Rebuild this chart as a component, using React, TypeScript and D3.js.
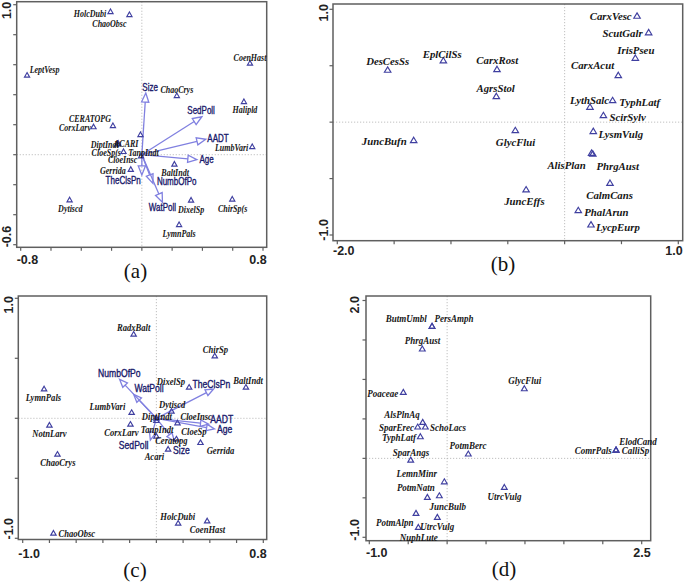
import React from 'react';
import * as d3 from 'd3';

// ---------------- Panel (a) data ----------------
const aSpeciesNames = ['HolcDubi','ChaoObsc','CoenHast','LeptVesp','ChaoCrys','Halipld','CERATOPG','CorxLarv','TanpIndt','DiptIndt','ACARI','CloeSp(s','CloeInsc','LumbVari','BaltIndt','Gerrida','Dytiscd','DixelSp','ChirSp(s','LymnPals'];
const aSpeciesX = [-0.207,-0.082,0.714,-0.758,0.231,0.674,-0.191,-0.319,-0.009,-0.161,-0.156,-0.121,-0.005,0.729,0.215,-0.073,-0.477,0.325,0.597,0.246];
const aSpeciesY = [0.953,0.933,0.609,0.529,0.393,0.353,0.193,0.185,0.133,0.071,0.075,0.02,-0.009,0.053,-0.064,-0.099,-0.302,-0.304,-0.297,-0.467];
const aEnvNames = ['Size','SedPoll','AADT','Age','TheClsPn','NumbOfPo','WatPoll'];
const aEnvX = [0.026,0.396,0.422,0.363,0.0,0.073,0.136];
const aEnvY = [0.411,0.253,0.103,-0.033,-0.135,-0.191,-0.317];
const aXTickLabels = ['-0.8','0.8'];
const aYTickLabels = ['-0.6','1.0'];

// ---------------- Panel (b) data ----------------
const bSpeciesNames = ['CarxVesc','ScutGalr','IrisPseu','CarxAcut','DesCesSs','EplCilSs','CarxRost','AgrsStol','LythSalc','TyphLatf','ScirSylv','JuncBufn','GlycFlui','LysmVulg','AlisPlan','PhrgAust','CalmCans','JuncEffs','PhalArun','LycpEurp'];
const bSpeciesX = [0.637,0.739,0.622,0.472,-1.557,-1.067,-0.595,-0.601,0.223,0.422,0.341,-1.328,-0.434,0.252,0.237,0.248,0.399,-0.339,0.12,0.232];
const bSpeciesY = [0.94,0.793,0.567,0.414,0.461,0.544,0.467,0.228,0.133,0.192,0.059,-0.162,-0.074,-0.082,-0.275,-0.282,-0.541,-0.599,-0.783,-0.91];
const bXTickLabels = ['-2.0','1.0'];
const bYTickLabels = ['-1.0','1.0'];

// ---------------- Panel (c) data ----------------
const cSpeciesNames = ['RadxBalt','ChirSp','BaltIndt','DixelSp','LymnPals','LumbVari','Dytiscd','NotnLarv','CorxLarv','DiptIndt','CloeInsc','TanpIndt','CloeSp','Ceratopg','Acari','Gerrida','ChaoCrys','HolcDubi','CoenHast','ChaoObsc'];
const cSpeciesX = [-0.17,0.437,0.67,0.245,-0.84,-0.185,0.113,-0.8,-0.194,0.0,0.158,0.0,0.15,0.0,0.088,0.33,-0.74,0.163,0.38,-0.77];
const cSpeciesY = [0.7,0.519,0.258,0.258,0.244,0.048,0.058,-0.058,-0.05,0.0,-0.039,-0.02,-0.173,-0.15,-0.258,-0.203,-0.3,-0.875,-0.856,-0.958];
const cEnvNames = ['NumbOfPo','WatPoll','TheClsPn','AADT','Age','SedPoll','Size'];
const cEnvX = [-0.275,-0.17,0.428,0.39,0.435,-0.045,0.135];
const cEnvY = [0.325,0.2,0.244,-0.048,-0.089,-0.181,-0.189];
const cXTickLabels = ['-1.0','0.8'];
const cYTickLabels = ['-1.0','1.0'];

// ---------------- Panel (d) data ----------------
const dSpeciesNames = ['ButmUmbl','PersAmph','PhrgAust','GlycFlui','Poaceae','AlsPlnAq','SparErec','SchoLacs','TyphLatf','SparAngs','PotmBerc','ComrPals','CalliSp','ElodCand','LemnMinr','PotmNatn','JuncBulb','UtrcVulg','PotmAlpn','UtrcVulg','NuphLute'];
const dSpeciesX = [-0.194,-0.194,-0.319,0.992,-0.563,-0.314,-0.378,-0.28,-0.344,-0.468,0.272,2.17,2.17,2.17,-0.036,-0.254,-0.1,0.735,-0.4,-0.126,-0.37];
const dSpeciesY = [1.673,1.673,1.385,0.882,0.836,0.456,0.397,0.397,0.274,-0.022,0.055,0.105,0.105,0.105,-0.297,-0.494,-0.474,-0.368,-0.697,-0.748,-0.875];
const dXTickLabels = ['-1.0','2.5'];
const dYTickLabels = ['-1.0','2.0'];

// ---------------- layout (positions / styles) ----------------
type Anchor = 'start' | 'middle' | 'end';
type Off = [number, number, Anchor];

const layoutA = {
  letter: '(a)', letterPos: [135.5, 270.5],
  frame: [16.7, 1.7, 266.7, 247.3],
  xDomain: [-0.8, 0.8], xRange: [20.7, 263], xStep: 0.2,
  yDomain: [-0.6, 1.0], yRange: [244.7, 4.7], yStep: 0.2,
  xLabelY: 259.5, yLabelX: 6.7,
  font: 10, sx: 0.8, tri: [5.2, 4.6], head: [9, 3.6],
  spOff: [[-4.3,1.6,'end'],[-20,9.3,'middle'],[0,-6,'middle'],[2.6,-6,'start'],[0,-6.4,'middle'],[1,8.3,'middle'],[-23,-6.7,'middle'],[-2.6,0.3,'end'],[3,18,'middle'],[-12.8,0.7,'middle'],[8,0.5,'middle'],[-2.6,1,'end'],[-18.5,4,'middle'],[-4,0.6,'end'],[0.7,8.4,'middle'],[-5,1,'end'],[0.7,9,'middle'],[0,9,'middle'],[0.4,9.7,'middle'],[0,8.6,'middle']] as Off[],
  envOff: [[4.3,-5.3,'middle'],[-0.7,-6,'middle'],[1.6,-1,'start'],[2.6,0,'start'],[-18.7,6,'middle'],[4,-1.6,'start'],[0,5,'middle']] as Off[],
};
const layoutB = {
  letter: '(b)', letterPos: [503, 263.5],
  frame: [333, 4, 682.7, 240.7],
  xDomain: [-2, 1], xRange: [337.3, 678.3], xStep: 0.5,
  yDomain: [-1, 1], yRange: [235, 9.3], yStep: 0.5,
  xLabelY: 251, yLabelX: 324,
  font: 11, sx: 0.98, tri: [6.5, 5.4], head: [9, 3.6],
  spOff: [[-5.4,0,'end'],[-6,0,'end'],[0.5,-8.7,'middle'],[-25.7,-10.7,'middle'],[0,-9,'middle'],[-1.2,-7,'middle'],[0.3,-9,'middle'],[-0.7,-8.3,'middle'],[-0.4,-7.4,'middle'],[6.7,1.3,'start'],[6,1,'start'],[-7,0.7,'end'],[0.3,11.7,'middle'],[5.3,2.3,'start'],[-25,11.6,'middle'],[24.8,12.2,'middle'],[-0.4,11.3,'middle'],[-1.7,11.4,'middle'],[6,1.7,'start'],[5,1.7,'start']] as Off[],
  envOff: [] as Off[],
};
const layoutC = {
  letter: '(c)', letterPos: [135, 570],
  frame: [18.3, 296, 266.7, 539.5],
  xDomain: [-1, 0.8], xRange: [22.7, 263.3], xStep: 0.2,
  yDomain: [-1, 1], yRange: [538.3, 298.3], yStep: 0.5,
  xLabelY: 554, yLabelX: 9.3,
  font: 10, sx: 0.86, tri: [5.4, 4.6], head: [8, 3.2],
  spOff: [[0,-6.6,'middle'],[0.7,-6,'middle'],[2.2,-6.6,'middle'],[-18.2,-5.6,'middle'],[-0.7,8.7,'middle'],[-6.3,-5.8,'end'],[0.7,-7,'middle'],[0,8.7,'middle'],[-9,8.7,'middle'],[0.5,-1.6,'middle'],[18.7,-6.3,'middle'],[0.7,9.3,'middle'],[17.5,-7.5,'middle'],[15,4.7,'middle'],[-13.7,8,'middle'],[20,8.3,'middle'],[0.4,8.4,'middle'],[-0.5,-6.6,'middle'],[0.3,8.3,'middle'],[5,0.7,'start']] as Off[],
  envOff: [[-0.3,-6,'middle'],[15.4,-6,'middle'],[-2.2,-4,'middle'],[13.3,-4.5,'middle'],[10.2,1,'middle'],[-16.7,6,'middle'],[7,9.7,'middle']] as Off[],
};
const layoutD = {
  letter: '(d)', letterPos: [504, 568.5],
  frame: [366, 296, 650.7, 540.7],
  xDomain: [-1, 2.5], xRange: [369.3, 641.7], xStep: 0.5,
  yDomain: [-1, 2], yRange: [537.3, 300.5], yStep: 0.5,
  xLabelY: 553.3, yLabelX: 355,
  font: 10, sx: 0.9, tri: [5.8, 5], head: [8, 3.2],
  spOff: [[-25.7,-7.3,'middle'],[22,-7.3,'middle'],[0.2,-8,'middle'],[0.4,-8,'middle'],[-5,1,'end'],[-20.7,-8,'middle'],[-3.7,0.7,'end'],[4.7,0.7,'start'],[-4.3,1,'end'],[0.3,-7.7,'middle'],[-0.3,-8,'middle'],[-4.3,1,'end'],[5.7,1,'start'],[3.3,-8.3,'start'],[-27.6,-8.4,'middle'],[-11.5,-9.6,'middle'],[8.5,11,'middle'],[0.2,9.4,'middle'],[-21.3,9.4,'middle'],[0,9.4,'middle'],[0.4,10,'middle']] as Off[],
  envOff: [] as Off[],
};

const FRAME = '#5f5f5f';
const TRI = '#3f3fa0';
const ARROW = '#8080e0';
const ENVTXT = '#18186a';
const SERIF = '"Liberation Serif", "Times New Roman", serif';
const SANS = '"Liberation Sans", Arial, sans-serif';

function Panel({ L, names, xs, ys, envNames = [], envX = [], envY = [], xLabels, yLabels }: any) {
  const x = d3.scaleLinear().domain(L.xDomain).range(L.xRange);
  const y = d3.scaleLinear().domain(L.yDomain).range(L.yRange);
  const [fx0, fy0, fx1, fy1] = L.frame;
  const xTicks = d3.range(L.xDomain[0], L.xDomain[1] + 1e-6, L.xStep);
  const yTicks = d3.range(L.yDomain[0], L.yDomain[1] + 1e-6, L.yStep);
  const ox = x(0), oy = y(0);
  const [tw, th] = L.tri;
  const triPath = (px: number, py: number) =>
    `M${px},${py - th * 0.6}L${px + tw / 2},${py + th * 0.4}L${px - tw / 2},${py + th * 0.4}Z`;

  return (
    <g>
      <line x1={ox} x2={ox} y1={fy0} y2={fy1} stroke="#b0b0b0" strokeWidth={0.8} strokeDasharray="1.2,1.8" />
      <line x1={fx0} x2={fx1} y1={oy} y2={oy} stroke="#b0b0b0" strokeWidth={0.8} strokeDasharray="1.2,1.8" />
      <rect x={fx0} y={fy0} width={fx1 - fx0} height={fy1 - fy0} fill="none" stroke={FRAME} strokeWidth={1.5} />
      {xTicks.map((t: number, i: number) => (
        <line key={'xt' + i} x1={x(t)} x2={x(t)} y1={fy1} y2={fy1 + 3.5} stroke={FRAME} strokeWidth={1.2} />
      ))}
      {yTicks.map((t: number, i: number) => (
        <line key={'yt' + i} x1={fx0} x2={fx0 - 3.5} y1={y(t)} y2={y(t)} stroke={FRAME} strokeWidth={1.2} />
      ))}
      <text x={fx0} y={L.xLabelY} textAnchor="start" dominantBaseline="central" fontFamily={SANS} fontSize={12.5} fontWeight="bold" fill="#222">{xLabels[0]}</text>
      <text x={fx1} y={L.xLabelY} textAnchor="end" dominantBaseline="central" fontFamily={SANS} fontSize={12.5} fontWeight="bold" fill="#222">{xLabels[1]}</text>
      <text transform={`translate(${L.yLabelX},${fy1}) rotate(-90)`} textAnchor="start" dominantBaseline="central" fontFamily={SANS} fontSize={12.5} fontWeight="bold" fill="#222">{yLabels[0]}</text>
      <text transform={`translate(${L.yLabelX},${fy0}) rotate(-90)`} textAnchor="end" dominantBaseline="central" fontFamily={SANS} fontSize={12.5} fontWeight="bold" fill="#222">{yLabels[1]}</text>
      <text x={L.letterPos[0]} y={L.letterPos[1]} textAnchor="middle" dominantBaseline="central" fontFamily={SERIF} fontSize={21} fill="#111">{L.letter}</text>
      {envNames.map((n: string, i: number) => {
        const tx = x(envX[i]), ty = y(envY[i]);
        const dx = tx - ox, dy = ty - oy;
        const len = Math.hypot(dx, dy) || 1;
        const ux = dx / len, uy = dy / len;
        const [hl, hw] = L.head;
        const bx = tx - ux * hl, by = ty - uy * hl;
        const px = -uy, py = ux;
        return (
          <g key={'env' + i}>
            <line x1={ox} y1={oy} x2={bx} y2={by} stroke={ARROW} strokeWidth={1.3} />
            <path d={`M${tx},${ty}L${bx + px * hw},${by + py * hw}L${bx - px * hw},${by - py * hw}Z`} fill="none" stroke={ARROW} strokeWidth={1.3} />
          </g>
        );
      })}
      {envNames.map((n: string, i: number) => {
        const [ddx, ddy, anc] = L.envOff[i];
        return (
          <text key={'envt' + i} transform={`translate(${x(envX[i]) + ddx},${y(envY[i]) + ddy}) scale(${L.sx},1)`} textAnchor={anc} dominantBaseline="central" fontFamily={SANS} fontSize={L.font} fill={ENVTXT} stroke={ENVTXT} strokeWidth={0.35}>{n}</text>
        );
      })}
      {names.map((n: string, i: number) => (
        <path key={'sp' + i} d={triPath(x(xs[i]), y(ys[i]))} fill="none" stroke={TRI} strokeWidth={1.15} />
      ))}
      {names.map((n: string, i: number) => {
        const [ddx, ddy, anc] = L.spOff[i];
        return (
          <text key={'spt' + i} transform={`translate(${x(xs[i]) + ddx},${y(ys[i]) + ddy}) scale(${L.sx},1)`} textAnchor={anc} dominantBaseline="central" fontFamily={SERIF} fontStyle="italic" fontWeight="bold" fontSize={L.font} fill="#161616">{n}</text>
        );
      })}
    </g>
  );
}

export default function App() {
  return (
    <svg width={685} height={584} viewBox="0 0 685 584" style={{ position: 'absolute', left: 0, top: 0, background: '#fff' }}>
      <rect x={0} y={0} width={685} height={584} fill="#fff" />
      <Panel L={layoutA} names={aSpeciesNames} xs={aSpeciesX} ys={aSpeciesY} envNames={aEnvNames} envX={aEnvX} envY={aEnvY} xLabels={aXTickLabels} yLabels={aYTickLabels} />
      <Panel L={layoutB} names={bSpeciesNames} xs={bSpeciesX} ys={bSpeciesY} xLabels={bXTickLabels} yLabels={bYTickLabels} />
      <Panel L={layoutC} names={cSpeciesNames} xs={cSpeciesX} ys={cSpeciesY} envNames={cEnvNames} envX={cEnvX} envY={cEnvY} xLabels={cXTickLabels} yLabels={cYTickLabels} />
      <Panel L={layoutD} names={dSpeciesNames} xs={dSpeciesX} ys={dSpeciesY} xLabels={dXTickLabels} yLabels={dYTickLabels} />
    </svg>
  );
}
